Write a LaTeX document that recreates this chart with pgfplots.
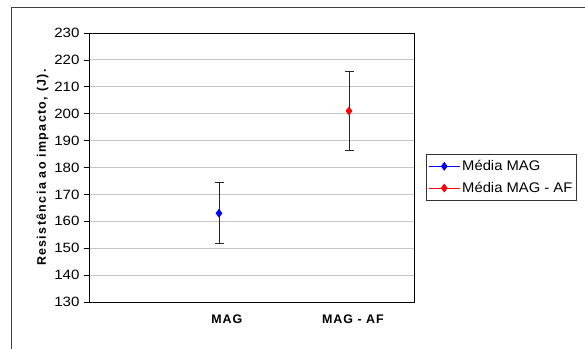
\documentclass[border=0pt]{standalone}
\usepackage{pgfplots}
\pgfplotsset{compat=1.18}
\usepackage{fontspec}
\setmainfont{Liberation Sans}
\newfontfamily\tickfont{Liberation Sans}[FakeStretch=1.12]
\newfontfamily\labfont{Liberation Sans}[LetterSpace=11]
\newfontfamily\xlabfont{Liberation Sans}[LetterSpace=8]
\newfontfamily\legfont{Liberation Sans}[FakeStretch=1.06]
\begin{document}
\begin{tikzpicture}
\useasboundingbox[fill=white] (0,0) rectangle (585bp,-349bp);
\draw[line width=1bp, black!75] (11bp,-7bp) rectangle (620bp,-380bp);
\begin{axis}[
  at={(89bp,-302bp)}, anchor=south west,
  scale only axis, width=325bp, height=269bp,
  xmin=0, xmax=2.5, ymin=130, ymax=230,
  ytick={130,140,...,230},
  xtick={1.06,2.03}, xticklabels={MAG, MAG - AF},
  xticklabel style={font=\fontsize{12.5}{14}\selectfont\bfseries\xlabfont, yshift=-4bp},
  x tick style={draw=none},
  ytick pos=left,
  yticklabel style={font=\fontsize{13.5}{15}\selectfont\tickfont, xshift=-1bp},
  /pgf/number format/assume math mode=true,
  tick align=outside, major tick length=5bp,
  y tick style={black, line width=0.8bp},
  ymajorgrids, grid style={gray!45, line width=0.9bp},
  axis line style={black, line width=1bp},
  ylabel={Resistência ao impacto, (J).},
  ylabel style={font=\fontsize{12.5}{14}\selectfont\bfseries\labfont, yshift=-1bp},
  legend style={at={(1.037,0.55)}, anchor=north west, draw=black!80, line width=0.8bp,
    font=\fontsize{14}{16}\selectfont\legfont, row sep=6bp, inner ysep=4bp, inner xsep=2bp},
  legend cell align=left,
  legend image code/.code={\draw[#1] (0bp,0bp) -- (31bp,0bp); \draw[#1, mark repeat=1] plot coordinates {(15.5bp,0bp)};},
  clip=false,
]
\addplot[blue, line width=0.8bp, mark=diamond*, mark size=3.8bp,
  error bars/.cd, y dir=both, y explicit,
  error bar style={black!85, line width=0.9bp},
  error mark options={rotate=90, black!85, mark size=4.5bp, line width=0.9bp}]
  coordinates {(1,163) +- (0,11.4)};
\addlegendentry{Média MAG}
\addplot[red, line width=0.8bp, mark=diamond*, mark size=3.8bp,
  error bars/.cd, y dir=both, y explicit,
  error bar style={black!85, line width=0.9bp},
  error mark options={rotate=90, black!85, mark size=4.5bp, line width=0.9bp}]
  coordinates {(2,201) +- (0,14.55)};
\addlegendentry{Média MAG - AF}
\end{axis}
\end{tikzpicture}
\end{document}
